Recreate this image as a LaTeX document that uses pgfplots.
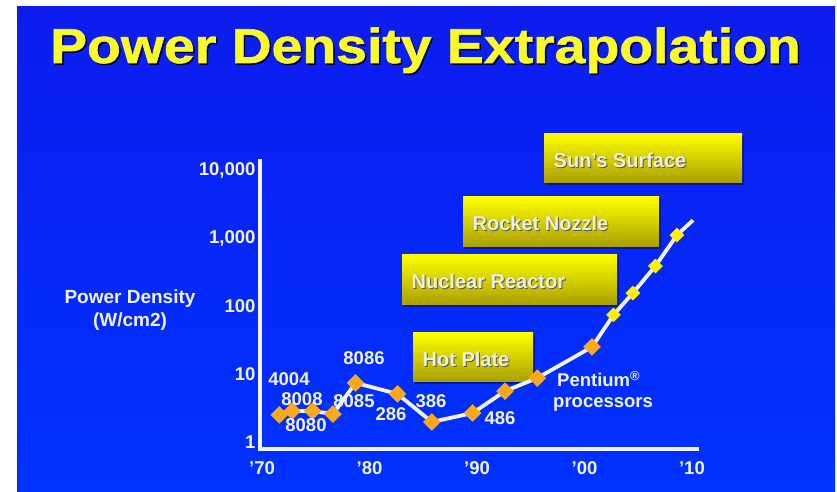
\documentclass[border=0pt]{standalone}
\usepackage{pgfplots}
\pgfplotsset{compat=1.18}
\usepackage{fontspec}
\setmainfont{Liberation Sans}
\newfontfamily\titlefont[FakeBold=1.2]{Liberation Sans Bold}
\definecolor{bgtop}{RGB}{12,28,238}
\definecolor{bgbot}{RGB}{0,50,255}
\definecolor{mkorange}{RGB}{250,168,30}
\definecolor{mkyellow}{RGB}{255,240,0}
\definecolor{boxtop}{RGB}{255,255,0}
\definecolor{boxbot}{RGB}{168,158,0}
\definecolor{titleyellow}{RGB}{250,250,40}
\definecolor{labwhite}{RGB}{242,242,250}
\definecolor{boxtext}{RGB}{238,238,225}
\newcommand\lab{\fontsize{18.5}{21}\selectfont\bfseries}
\newcommand\tbox[5]{%
  \fill[black!70!blue,opacity=0.45] ({#1+2},{#2-2}) rectangle ({#3+2},{#4-2});
  \shade[top color=boxtop,bottom color=boxbot] (#1,#2) rectangle (#3,#4);
  \node[anchor=west,inner sep=0,text=black!65] at ({#1+10.5},{(#2+#4)/2-2.5}) {\fontsize{20}{22}\selectfont\bfseries #5};
  \node[anchor=west,inner sep=0,text=boxtext] at ({#1+9.5},{(#2+#4)/2-1.5}) {\fontsize{20}{22}\selectfont\bfseries #5};
}
\begin{document}
\begin{tikzpicture}[x=1pt,y=1pt]
\path[use as bounding box] (0,0) rectangle (837,492);
\fill[white] (0,0) rectangle (837,492);
\shade[top color=bgtop,bottom color=bgbot] (17,0) rectangle (835,485);
% title
\node[anchor=base,inner sep=0,text=black!75!blue] at (427,427.5) {\scalebox{1.13}[1]{\fontsize{49}{52}\titlefont Power Density Extrapolation}};
\node[anchor=base,inner sep=0,text=titleyellow] at (425.5,429) {\scalebox{1.13}[1]{\fontsize{49}{52}\titlefont Power Density Extrapolation}};
% boxes
\tbox{544}{309}{742}{358}{Sun's Surface}
\tbox{463}{245}{659}{295}{Rocket Nozzle}
\tbox{402}{187}{617}{237}{Nuclear Reactor}
\tbox{413}{110}{533}{159}{Hot Plate}
% y label
\node[text=labwhite,inner sep=0] at (130,193) {\fontsize{19}{21}\selectfont\bfseries Power Density};
\node[text=labwhite,inner sep=0] at (130,170) {\fontsize{19}{21}\selectfont\bfseries (W/cm2)};
\begin{axis}[
  at={(260pt,43pt)}, anchor=south west,
  scale only axis, width=437pt, height=288pt,
  xmin=1969.81, xmax=2010.47,
  ymode=log, ymin=0.789, ymax=13560,
  axis lines=left,
  axis line style={-, draw=labwhite, line width=3.5pt, line cap=rect},
  xtick={1970,1980,1990,2000,2010},
  xticklabels={’70,’80,’90,’00,’10},
  ytick={1,10,100,1000,10000},
  yticklabels={1,10,100,{1,000},{10,000}},
  major tick length=0pt, minor tick length=0pt,
  tick style={draw=none},
  tick label style={font=\lab, text=labwhite},
  yticklabel style={xshift=-1pt},
  xticklabel style={yshift=-9pt},
  clip=false,
]
\addplot[labwhite, line width=3.8pt, no marks] table {
x y
1971.6 2.5
1972.8 2.86
1974.7 2.86
1976.6 2.58
1978.7 7.4
1982.6 5.1
1985.8 1.97
1989.6 2.67
1992.6 5.6
1995.6 8.7
2000.7 25
2002.7 74
2004.5 155
2006.6 387
2008.6 1100
2010.1 1830
};
\addplot[only marks, mark=square*, mark size=6pt, mark options={rotate=45, fill=mkorange, draw=mkorange}] table {
x y
1971.6 2.5
1972.8 2.86
1974.7 2.86
1976.6 2.58
1978.7 7.4
1982.6 5.1
1985.8 1.97
1989.6 2.67
1992.6 5.6
1995.6 8.7
2000.7 25
};
\addplot[only marks, mark=square*, mark size=5pt, mark options={rotate=45, fill=mkyellow, draw=mkyellow}] table {
x y
2002.7 74
2004.5 155
2006.6 387
2008.6 1100
};
\end{axis}
% point labels
\begin{scope}[every node/.style={text=labwhite,inner sep=0,font=\lab}]
\node at (289,113) {4004};
\node at (302,93) {8008};
\node at (306,67) {8080};
\node at (354,91) {8085};
\node at (364,134) {8086};
\node at (391,78) {286};
\node at (431,91) {386};
\node at (500,74) {486};
\node[anchor=west] at (557,113) {Pentium\textsuperscript{®}};
\node[anchor=west] at (553,88) {processors};
\end{scope}
\end{tikzpicture}
\end{document}
